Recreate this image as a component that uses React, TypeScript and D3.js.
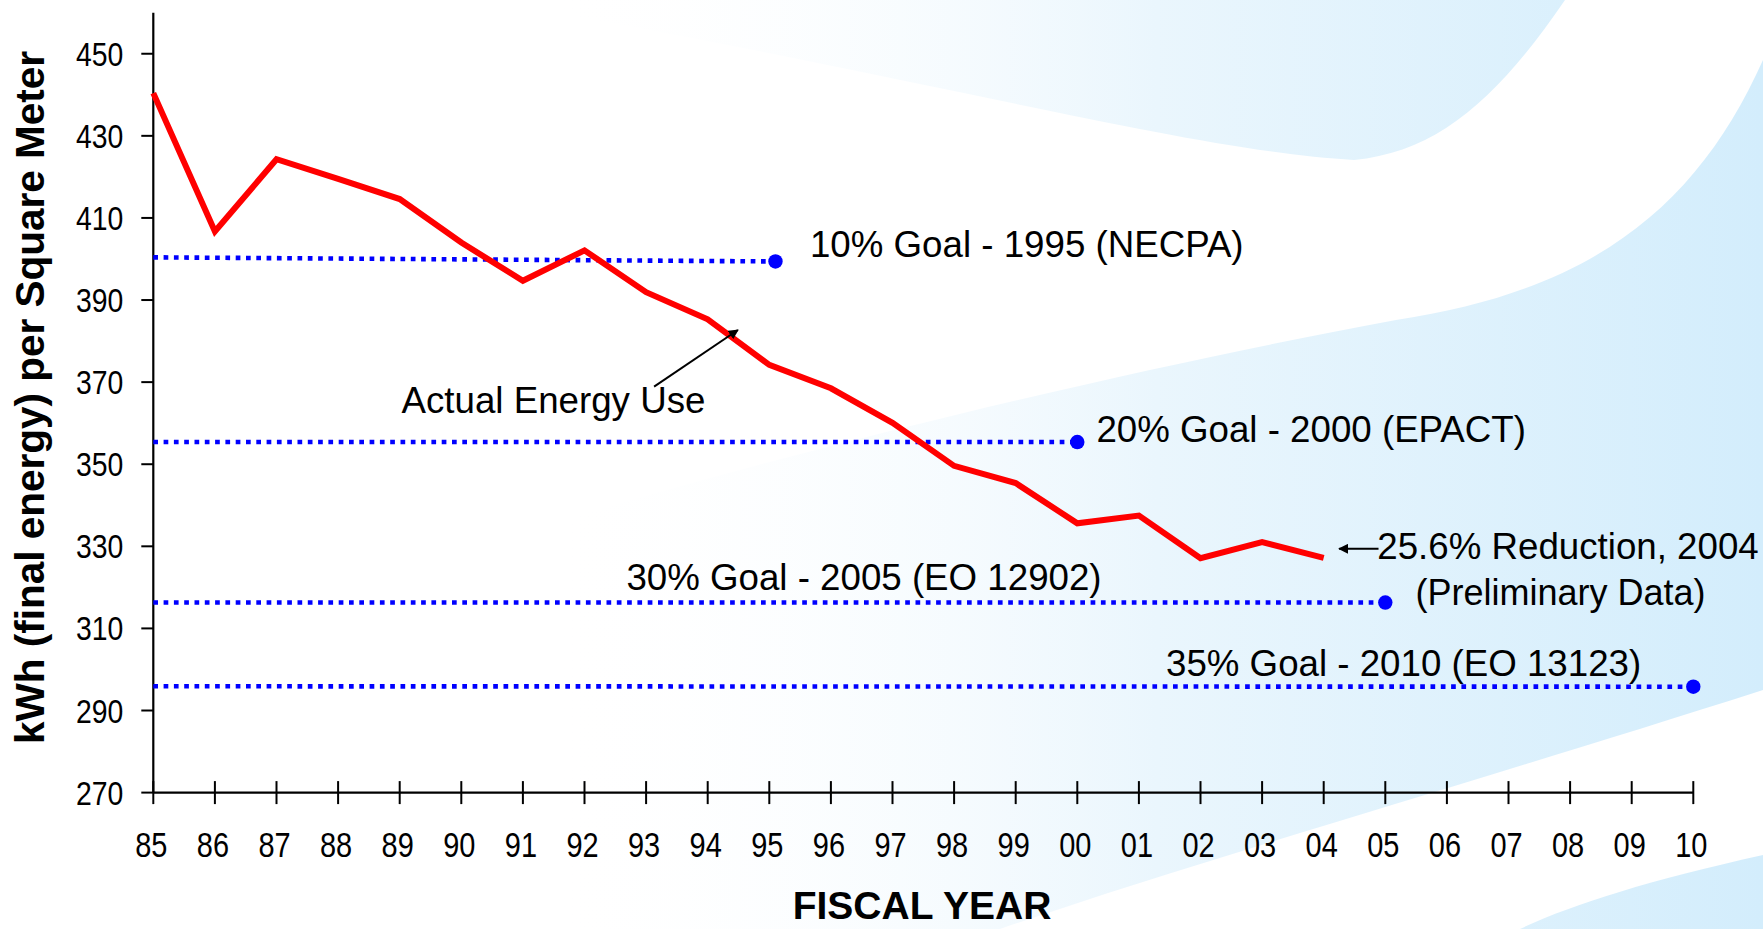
import * as d3 from "d3";
import React from "react";

// fiscal years 1985..2010, axis labels as printed
const yearLabels = ["85", "86", "87", "88", "89", "90", "91", "92", "93", "94", "95", "96", "97", "98", "99", "00", "01", "02", "03", "04", "05", "06", "07", "08", "09", "10"];
const years = d3.range(1985, 2011);

// kWh (final energy) per square meter, FY85..FY04
const actualYears = d3.range(1985, 2005);
const actualUse = [440.4, 406.7, 424.3, 419.5, 414.6, 404.0, 394.7, 402.1, 391.9, 385.3, 374.2, 368.5, 360.1, 349.6, 345.4, 335.6, 337.5, 327.1, 331.0, 327.2];

const yTicks = [270, 290, 310, 330, 350, 370, 390, 410, 430, 450];

// goal lines
const goalLabels = ["10% Goal - 1995 (NECPA)", "20% Goal - 2000 (EPACT)", "30% Goal - 2005 (EO 12902)", "35% Goal - 2010 (EO 13123)"];
const goalEndYear = [1995.1, 2000, 2005, 2010];
const goalStartValue = [400.4, 355.4, 316.3, 295.9];
const goalEndValue = [399.4, 355.4, 316.3, 295.8];
// label anchor (year, baseline value)
const goalLabelYear = [1995.66, 2000.31, 1992.68, 2001.44];
const goalLabelValue = [400.5, 355.5, 319.4, 298.4];

const W = 1763;
const H = 929;

const App = () => {
  const x = d3.scaleLinear().domain([1985, 2010]).range([153.3, 1693.3]);
  const y = d3.scaleLinear().domain([270, 460]).range([792.6, 12.7]);

  const line = d3
    .line<number>()
    .x((d, i) => x(actualYears[i]))
    .y((d) => y(d));

  const font = "'Liberation Sans', Arial, sans-serif";

  // arrow from "Actual Energy Use" to the line
  const a1 = { x1: x(1993.13), y1: y(368.9), x2: x(1994.49), y2: y(382.7) };
  const a2 = { x1: x(2004.89), y1: y(329.4), x2: x(2004.25), y2: y(329.4) };

  return (
    <svg width={W} height={H} style={{ position: "absolute", left: 0, top: 0 }}>
      <defs>
        <linearGradient id="swoosh" gradientUnits="userSpaceOnUse" x1={550} y1={0} x2={1763} y2={0}>
          <stop offset="0" stopColor="#ffffff" stopOpacity={0} />
          <stop offset="0.5" stopColor="#eaf6fd" />
          <stop offset="1" stopColor="#d3edfc" />
        </linearGradient>
        <marker id="head" viewBox="0 0 10 10" refX={9} refY={5} markerWidth={5} markerHeight={5} orient="auto">
          <path d="M0,0 L10,5 L0,10 Z" fill="#000" />
        </marker>
      </defs>

      <rect width={W} height={H} fill="#fff" />
      {/* background swooshes */}
      <path d="M480,0 L1565,0 C1500,95 1440,152 1354,160 C1180,150 900,70 480,0 Z" fill="url(#swoosh)" />
      <path d="M1763,60 C1700,200 1600,290 1396,320 C1100,375 700,470 300,600 L300,929 L1000,929 C1200,860 1450,790 1763,690 Z" fill="url(#swoosh)" />
      <path d="M1763,855 C1650,880 1570,905 1520,929 L1763,929 Z" fill="url(#swoosh)" />

      {/* axes */}
      <line x1={x(1985)} x2={x(1985)} y1={y(460)} y2={y(270)} stroke="#000" strokeWidth={2.2} />
      <line x1={x(1985)} x2={x(2010)} y1={y(270)} y2={y(270)} stroke="#000" strokeWidth={2.2} />
      {yTicks.map((t) => (
        <g key={t}>
          <line x1={x(1985) - 12} x2={x(1985)} y1={y(t)} y2={y(t)} stroke="#000" strokeWidth={2} />
          <text
            transform={`translate(${x(1985) - 30},${y(t) + 12}) scale(0.86,1)`}
            textAnchor="end"
            fontFamily={font}
            fontSize={33}
            fill="#000"
          >
            {t}
          </text>
        </g>
      ))}
      {years.map((yr, i) => (
        <g key={yr}>
          <line x1={x(yr)} x2={x(yr)} y1={y(270) - 11.5} y2={y(270) + 11.5} stroke="#000" strokeWidth={2} />
          <text
            transform={`translate(${x(yr) - 2},${857}) scale(0.84,1)`}
            textAnchor="middle"
            fontFamily={font}
            fontSize={34.5}
            fill="#000"
          >
            {yearLabels[i]}
          </text>
        </g>
      ))}

      <text
        transform={`translate(44,397.5) rotate(-90)`}
        textAnchor="middle"
        fontFamily={font}
        fontWeight="bold"
        fontSize={40.5}
        fill="#000"
      >
        kWh (final energy) per Square Meter
      </text>
      <text x={922} y={919} textAnchor="middle" fontFamily={font} fontWeight="bold" fontSize={39} fill="#000">
        FISCAL YEAR
      </text>

      {/* goal lines */}
      {goalLabels.map((g, i) => (
        <g key={g}>
          <line
            x1={x(1985)}
            x2={x(goalEndYear[i])}
            y1={y(goalStartValue[i])}
            y2={y(goalEndValue[i])}
            stroke="#0000ff"
            strokeWidth={4.6}
            strokeDasharray="4.7 5.6"
          />
          <circle cx={x(goalEndYear[i])} cy={y(goalEndValue[i])} r={7.2} fill="#0000ff" />
          <text x={x(goalLabelYear[i])} y={y(goalLabelValue[i])} fontFamily={font} fontSize={36.7} fill="#000">
            {g}
          </text>
        </g>
      ))}

      {/* actual energy use */}
      <path d={line(actualUse) || undefined} fill="none" stroke="#ff0000" strokeWidth={6} strokeLinejoin="miter" />

      <text x={x(1989.03)} y={y(362.4)} fontFamily={font} fontSize={36.7} fill="#000">
        Actual Energy Use
      </text>
      <line {...a1} stroke="#000" strokeWidth={2} markerEnd="url(#head)" />

      <line {...a2} stroke="#000" strokeWidth={2} markerEnd="url(#head)" />
      <text x={x(2004.87)} y={y(326.9)} fontFamily={font} fontSize={36.7} fill="#000">
        25.6% Reduction, 2004
      </text>
      <text x={x(2005.49)} y={y(315.7)} fontFamily={font} fontSize={36} fill="#000">
        (Preliminary Data)
      </text>
    </svg>
  );
};

export default App;
